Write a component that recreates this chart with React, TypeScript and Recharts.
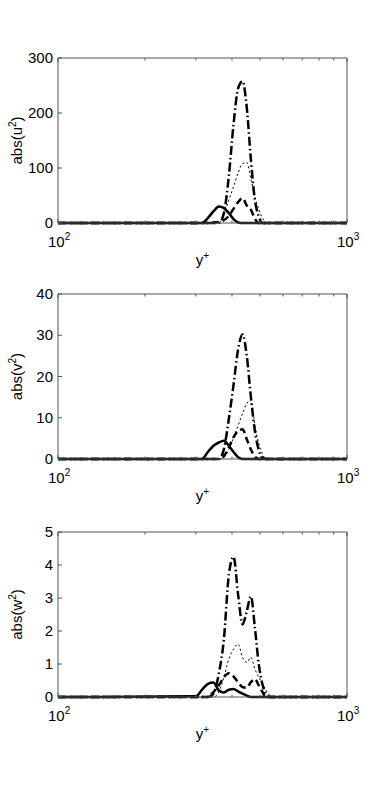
import React from "react";
import { LineChart, Line, XAxis, YAxis } from "recharts";

// y+ sample positions shared by every series
const yPlus = [100, 300, 315, 330, 345, 360, 375, 390, 405, 420, 435, 450, 465, 480, 495, 510, 525, 540, 560, 1000];

// abs(u^2)
const u2Solid   = [0, 0, 0, 9, 21, 30, 27, 18, 7, 1, 0, 0, 0, 0, 0, 0, 0, 0, 0, 0];
const u2Dashed  = [0, 0, 0, 0, 1, 2, 5, 13, 26, 38, 45, 32, 24, 8, 0, 0, 0, 0, 0, 0];
const u2DashDot = [0, 0, 0, 0, 0, 0, 18, 85, 180, 245, 258, 210, 115, 42, 12, 0, 0, 0, 0, 0];
const u2Dotted  = [0, 0, 0, 0, 0, 0, 16, 42, 66, 91, 108, 110, 80, 48, 25, 9, 0, 0, 0, 0];

// abs(v^2)
const v2Solid   = [0, 0, 0, 1.7, 3.2, 4.0, 4.4, 3.2, 1.7, 0.4, 0, 0, 0, 0, 0, 0, 0, 0, 0, 0];
const v2Dashed  = [0, 0, 0, 0, 0, 0, 0.7, 2.8, 5.3, 6.8, 7.2, 4.8, 2.3, 0.6, 0, 0, 0, 0, 0, 0];
const v2DashDot = [0, 0, 0, 0, 0, 0, 2.4, 9.7, 18, 26.6, 30.2, 25, 15, 6.8, 2.2, 0.3, 0, 0, 0, 0];
const v2Dotted  = [0, 0, 0, 0, 0, 0, 0.4, 2.3, 5.2, 8.1, 11, 13.5, 14.3, 8.2, 3.8, 1.2, 0, 0, 0, 0];

// abs(w^2)
const w2Solid   = [0, 0.02, 0.22, 0.4, 0.44, 0.2, 0.14, 0.22, 0.24, 0.17, 0.1, 0.04, 0, 0, 0, 0, 0, 0, 0, 0];
const w2Dashed  = [0, 0, 0, 0, 0.15, 0.35, 0.6, 0.72, 0.62, 0.45, 0.3, 0.28, 0.45, 0.55, 0.35, 0.15, 0, 0, 0, 0];
const w2DashDot = [0, 0, 0, 0, 0.1, 0.7, 1.75, 3.7, 4.25, 3.1, 2.2, 2.6, 3.05, 2.1, 1.0, 0.38, 0.08, 0, 0, 0];
const w2Dotted  = [0, 0, 0, 0, 0, 0.15, 0.6, 1.15, 1.45, 1.6, 1.2, 1.05, 1.2, 0.85, 0.6, 0.4, 0.2, 0.05, 0, 0];

const xTicks = [100, 200, 300, 400, 500, 600, 700, 800, 900, 1000];
const u2Ticks = [0, 100, 200, 300];
const v2Ticks = [0, 10, 20, 30, 40];
const w2Ticks = [0, 1, 2, 3, 4, 5];

const FONT = '"Liberation Sans", Arial, Helvetica, sans-serif';
const AXIS = "#555";
const FS = 15;
const M_TOP = 9;
const PLOT_H = 164;
const X_AXIS_H = 40;
const M_BOTTOM = 22;
const CHART_H = M_TOP + 1 + PLOT_H + X_AXIS_H + M_BOTTOM;

const buildRows = (s: number[], d: number[], dd: number[], dot: number[]) =>
  yPlus.map((x, i) => ({ x, s: s[i], d: d[i], dd: dd[i], dot: dot[i] }));

const BottomTick = (props: any) => {
  const { x, y, payload } = props;
  const v = payload.value;
  const major = v === 100 || v === 1000;
  return (
    <g>
      <line x1={x} y1={y} x2={x} y2={y - (major ? 4 : 2.5)} stroke={AXIS} />
      {major && (
        <text x={x - 10} y={y + 24} fontSize={FS} fontFamily={FONT} fill="#000">
          <tspan>10</tspan>
          <tspan dy={-7} fontSize={10}>{v === 100 ? "2" : "3"}</tspan>
        </text>
      )}
    </g>
  );
};

const TopTick = (props: any) => {
  const { x, y, payload } = props;
  const major = payload.value === 100 || payload.value === 1000;
  return <line x1={x} y1={y} x2={x} y2={y + (major ? 4 : 2.5)} stroke={AXIS} />;
};

const LeftTick = (props: any) => {
  const { x, y, payload } = props;
  return (
    <g>
      <line x1={x} y1={y} x2={x + 4} y2={y} stroke={AXIS} />
      <text x={x - 5} y={y + 5} textAnchor="end" fontSize={FS} fontFamily={FONT} fill="#000">
        {payload.value}
      </text>
    </g>
  );
};

const RightTick = (props: any) => {
  const { x, y } = props;
  return <line x1={x} y1={y} x2={x - 4} y2={y} stroke={AXIS} />;
};

function Panel({ top, rows, ticks, name }: { top: number; rows: any[]; ticks: number[]; name: string }) {
  const domain = [ticks[0], ticks[ticks.length - 1]];
  return (
    <div style={{ position: "absolute", left: 0, top }}>
      <LineChart width={382} height={CHART_H} data={rows} margin={{ top: M_TOP, right: 35, left: 0, bottom: M_BOTTOM }}>
        <XAxis
          dataKey="x"
          type="number"
          scale="log"
          domain={[100, 1000]}
          allowDataOverflow
          ticks={xTicks}
          interval={0}
          height={X_AXIS_H}
          tickSize={0}
          tickMargin={0}
          tickLine={false}
          tick={<BottomTick />}
          axisLine={{ stroke: AXIS }}
          label={{
            content: (p: any) => {
              const vb = p.viewBox;
              return (
                <text x={vb.x + vb.width / 2} y={vb.y + 42} textAnchor="middle" fontSize={FS} fontFamily={FONT} fill="#000">
                  y<tspan dy={-6} fontSize={10}>+</tspan>
                </text>
              );
            },
          }}
        />
        <XAxis
          xAxisId="top"
          orientation="top"
          dataKey="x"
          type="number"
          scale="log"
          domain={[100, 1000]}
          allowDataOverflow
          ticks={xTicks}
          interval={0}
          height={1}
          mirror
          tickSize={0}
          tickMargin={0}
          tickLine={false}
          tick={<TopTick />}
          axisLine={{ stroke: AXIS }}
        />
        <YAxis
          type="number"
          domain={domain}
          ticks={ticks}
          interval={0}
          width={58}
          tickSize={0}
          tickMargin={0}
          tickLine={false}
          tick={<LeftTick />}
          axisLine={{ stroke: AXIS }}
          label={{
            content: (p: any) => {
              const vb = p.viewBox;
              const cx = 17;
              const cy = vb.y + vb.height / 2;
              const base = name.slice(0, -1);
              return (
                <text x={cx} y={cy} transform={`rotate(-90 ${cx} ${cy})`} textAnchor="middle" fontSize={FS} fontFamily={FONT} fill="#000" dy={5}>
                  {base}
                  <tspan dy={-6} fontSize={10}>2</tspan>
                  <tspan dy={6}>)</tspan>
                </text>
              );
            },
          }}
        />
        <YAxis
          yAxisId="r"
          orientation="right"
          type="number"
          domain={domain}
          ticks={ticks}
          interval={0}
          width={1}
          mirror
          tickSize={0}
          tickMargin={0}
          tickLine={false}
          tick={<RightTick />}
          axisLine={{ stroke: AXIS }}
        />
        <Line dataKey="s" type="monotone" stroke="#000" strokeWidth={2.5} dot={false} isAnimationActive={false} />
        <Line dataKey="d" type="monotone" stroke="#000" strokeWidth={2.5} strokeDasharray="7 4" dot={false} isAnimationActive={false} />
        <Line dataKey="dd" type="monotone" stroke="#000" strokeWidth={2.5} strokeDasharray="9 3 1.5 3" dot={false} isAnimationActive={false} />
        <Line dataKey="dot" type="monotone" stroke="#000" strokeWidth={1} strokeDasharray="2 2.5" dot={false} isAnimationActive={false} />
      </LineChart>
    </div>
  );
}

export default function App() {
  return (
    <div style={{ position: "absolute", left: 0, top: 0, width: 382, height: 790, background: "#fff", fontFamily: FONT }}>
      <Panel top={49} rows={buildRows(u2Solid, u2Dashed, u2DashDot, u2Dotted)} ticks={u2Ticks} name="abs(u)" />
      <Panel top={285} rows={buildRows(v2Solid, v2Dashed, v2DashDot, v2Dotted)} ticks={v2Ticks} name="abs(v)" />
      <Panel top={523} rows={buildRows(w2Solid, w2Dashed, w2DashDot, w2Dotted)} ticks={w2Ticks} name="abs(w)" />
    </div>
  );
}
